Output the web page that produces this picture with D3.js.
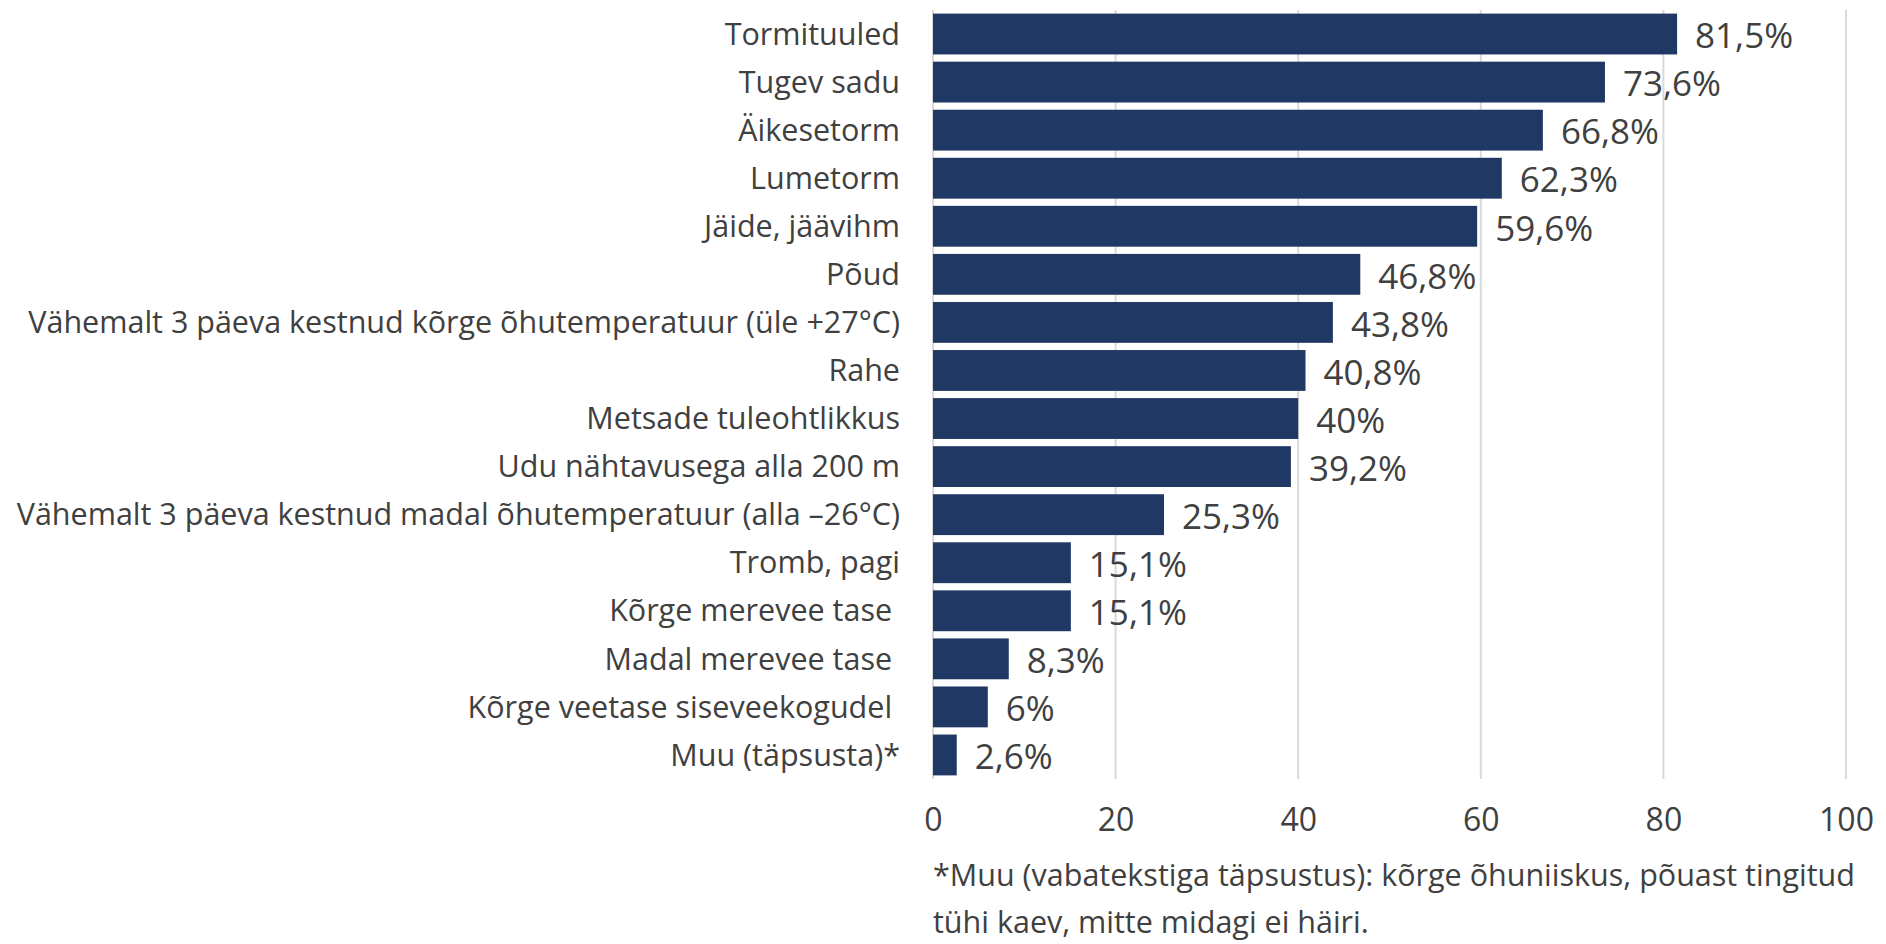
<!DOCTYPE html>
<html>
<head>
<meta charset="utf-8">
<script src="https://cdn.jsdelivr.net/npm/d3@7"></script>
<style>
  html, body { margin: 0; padding: 0; background: #fff; }
  svg { display: block; }
  text { font-family: "Open Sans", "Noto Sans", sans-serif; fill: #404040; white-space: pre; }
</style>
</head>
<body>
<div id="chart"></div>
<script>
// andmed
const categories = [
  "Tormituuled",
  "Tugev sadu",
  "Äikesetorm",
  "Lumetorm",
  "Jäide, jäävihm",
  "Põud",
  "Vähemalt 3 päeva kestnud kõrge õhutemperatuur (üle +27°C)",
  "Rahe",
  "Metsade tuleohtlikkus",
  "Udu nähtavusega alla 200 m",
  "Vähemalt 3 päeva kestnud madal õhutemperatuur (alla –26°C)",
  "Tromb, pagi",
  "Kõrge merevee tase ",
  "Madal merevee tase ",
  "Kõrge veetase siseveekogudel ",
  "Muu (täpsusta)*"
];
const values = [81.5, 73.6, 66.8, 62.3, 59.6, 46.8, 43.8, 40.8, 40, 39.2, 25.3, 15.1, 15.1, 8.3, 6, 2.6];
const xTicks = [0, 20, 40, 60, 80, 100];
const footnote = [
  "*Muu (vabatekstiga täpsustus): kõrge õhuniiskus, põuast tingitud",
  "tühi kaev, mitte midagi ei häiri."
];

const width = 1886, height = 944;
const margin = {top: 10, right: 40, bottom: 165, left: 933};

const svg = d3.select("#chart").append("svg")
    .attr("width", width)
    .attr("height", height);

const x = d3.scaleLinear().domain([0, 100]).range([margin.left, width - margin.right]);
const y = d3.scaleBand().domain(categories)
    .range([margin.top, height - margin.bottom])
    .paddingInner(0.15).paddingOuter(0.075);

const fmt = v => String(v).replace(".", ",") + "%";

// ruudustik
svg.append("g").selectAll("line")
   .data(xTicks).join("line")
   .attr("x1", d => x(d)).attr("x2", d => x(d))
   .attr("y1", margin.top).attr("y2", height - margin.bottom)
   .attr("stroke", "#d9d9d9").attr("stroke-width", 2);

// tulbad
svg.append("g").selectAll("rect")
   .data(values).join("rect")
   .attr("x", x(0))
   .attr("y", (d, i) => y(categories[i]))
   .attr("width", d => x(d) - x(0))
   .attr("height", y.bandwidth())
   .attr("fill", "#203864");

// väärtused
svg.append("g").selectAll("text")
   .data(values).join("text")
   .attr("x", d => x(d) + 18)
   .attr("y", (d, i) => y(categories[i]) + y.bandwidth() / 2 + 2)
   .attr("dy", "0.35em")
   .style("font-size", "35px")
   .text(fmt);

// kategooriad
svg.append("g").selectAll("text")
   .data(categories).join("text")
   .attr("x", x(0) - 33)
   .attr("y", d => y(d) + y.bandwidth() / 2)
   .attr("dy", "0.35em")
   .attr("text-anchor", "end")
   .style("font-size", "30.5px")
   .text(d => d);

// x-telg
const xAxis = svg.append("g")
   .attr("transform", `translate(0,${height - margin.bottom})`)
   .call(d3.axisBottom(x).tickValues(xTicks).tickSize(0).tickPadding(29));
xAxis.select(".domain").remove();
xAxis.selectAll("text")
   .style("font-size", "32px")
   .style("font-family", "\"Open Sans\", sans-serif")
   .attr("fill", "#595959");

// joonealune märkus
svg.append("g").selectAll("text")
   .data(footnote).join("text")
   .attr("x", x(0))
   .attr("y", (d, i) => 886 + i * 47)
   .style("font-size", "30.5px")
   .text(d => d);
</script>
</body>
</html>
